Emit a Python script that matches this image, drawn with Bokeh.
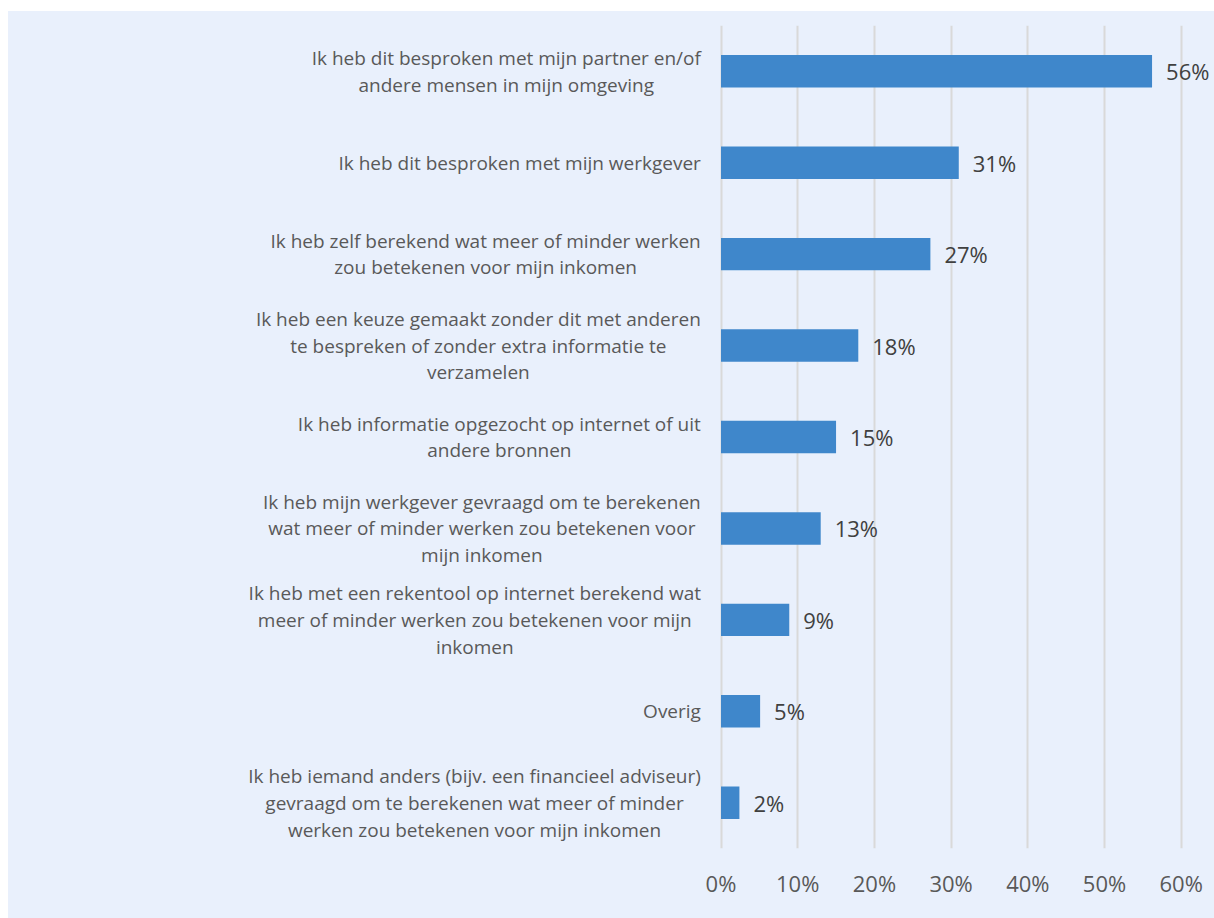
from bokeh.plotting import figure
from bokeh.models import FactorRange, Range1d, FixedTicker, ColumnDataSource
from bokeh.core.properties import value
from bokeh.embed import file_html
from bokeh.resources import INLINE

categories = [
    "Ik heb dit besproken met mijn partner en/of\nandere mensen in mijn omgeving",
    "Ik heb dit besproken met mijn werkgever",
    "Ik heb zelf berekend wat meer of minder werken\nzou betekenen voor mijn inkomen",
    "Ik heb een keuze gemaakt zonder dit met anderen\nte bespreken of zonder extra informatie te\nverzamelen",
    "Ik heb informatie opgezocht op internet of uit\nandere bronnen",
    "Ik heb mijn werkgever gevraagd om te berekenen\nwat meer of minder werken zou betekenen voor\nmijn inkomen",
    "Ik heb met een rekentool op internet berekend wat\nmeer of minder werken zou betekenen voor mijn\ninkomen",
    "Overig",
    "Ik heb iemand anders (bijv. een financieel adviseur)\ngevraagd om te berekenen wat meer of minder\nwerken zou betekenen voor mijn inkomen",
]
values = [56.2, 31.0, 27.3, 17.9, 15.0, 13.0, 8.9, 5.1, 2.4]
value_labels = ["56%", "31%", "27%", "18%", "15%", "13%", "9%", "5%", "2%"]
tick_values = [0, 10, 20, 30, 40, 50, 60]
tick_labels = ["0%", "10%", "20%", "30%", "40%", "50%", "60%"]

BG = "#E9F0FC"
BAR = "#3F87CB"
LABEL_PX = 19

# approximate Open Sans advance widths (units per 2048 em) for centring label blocks
_W = dict(a=1139, b=1255, c=975, d=1255, e=1149, f=694, g=1122, h=1257, i=518, j=518,
          k=1075, l=518, m=1905, n=1257, o=1237, p=1255, q=1255, r=836, s=977, t=723,
          u=1257, v=1026, w=1593, x=1073, y=1028, z=977)
_W.update({"I": 571, "O": 1599, " ": 532, "(": 604, ")": 604, ".": 545, "/": 752})


def text_width(s, px):
    return sum(_W.get(ch, 1150) for ch in s) / 2048 * px


label_offsets = [-(20 + max(text_width(l, LABEL_PX) for l in c.split("\n")) / 2)
                 for c in categories]

src = ColumnDataSource(dict(cat=categories, val=values, lab=value_labels,
                            zero=[0] * len(categories), off=label_offsets))

FIG_W, FIG_H = 1206, 907
ZERO_PX = 712.5      # where 0% sits, px from figure's left edge
MAX_PX = 1172.7      # where 60% sits
px_per_unit = (MAX_PX - ZERO_PX) / tick_values[-1]
x_start = -ZERO_PX / px_per_unit
x_end = tick_values[-1] + (FIG_W - MAX_PX) / px_per_unit

p = figure(
    width=FIG_W, height=FIG_H,
    y_range=FactorRange(factors=list(reversed(categories)), range_padding=0),
    x_range=Range1d(x_start, x_end),
    output_backend="svg", toolbar_location=None,
    min_border_left=0, min_border_right=0, min_border_top=14, min_border_bottom=70,
)
p.margin = (11, 0, 0, 8)
p.styles = {"background-color": BG}
p.background_fill_color = BG
p.border_fill_color = BG
p.outline_line_color = None

p.hbar(y="cat", right="val", left=0, height=0.355, source=src,
       fill_color=BAR, line_color=None)
p.text(x="val", y="cat", text="lab", source=src, x_offset=14,
       text_baseline="middle", text_align="left",
       text_font=value("Open Sans"), text_font_size="22px", text_color="#404040")
p.text(x="zero", y="cat", text="cat", source=src, x_offset="off",
       text_baseline="middle", text_align="center", text_line_height=1.03,
       text_font=value("Open Sans"), text_font_size=f"{LABEL_PX}px", text_color="#595959")

p.xaxis.ticker = FixedTicker(ticks=tick_values)
p.xaxis.major_label_overrides = {t: l for t, l in zip(tick_values, tick_labels)}
p.xaxis.axis_line_color = None
p.xaxis.major_tick_line_color = None
p.xaxis.minor_tick_line_color = None
p.xaxis.major_tick_out = 0
p.xaxis.major_label_standoff = 19
p.xaxis.major_label_text_font = "Open Sans"
p.xaxis.major_label_text_font_size = "22px"
p.xaxis.major_label_text_color = "#595959"

p.yaxis.visible = False

p.xgrid.grid_line_color = "#D9D9D9"
p.xgrid.grid_line_width = 2
p.ygrid.grid_line_color = None

open("out.html", "w").write(file_html(p, INLINE))
